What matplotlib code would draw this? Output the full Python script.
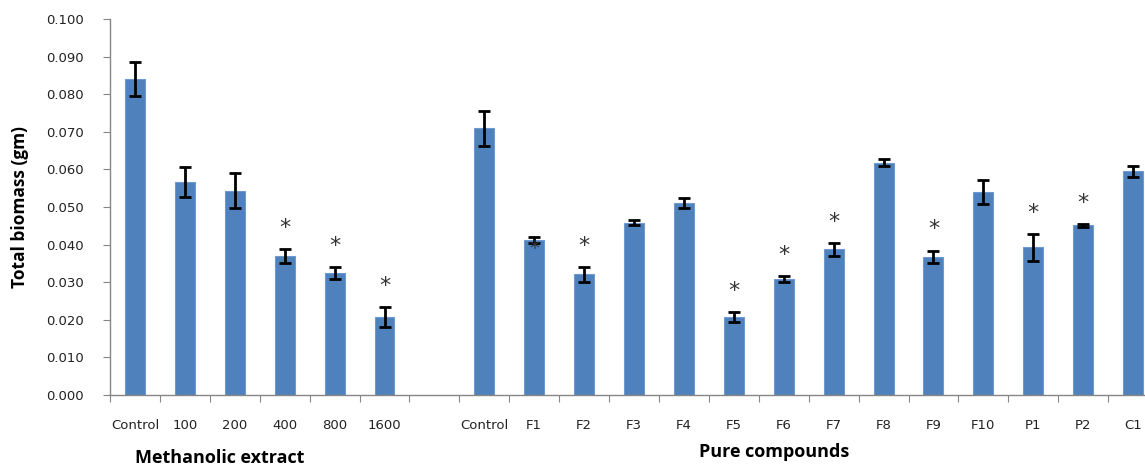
import matplotlib
matplotlib.use("Agg")
import matplotlib.pyplot as plt
import numpy as np

extract_labels = ["Control", "100", "200", "400", "800", "1600"]
extract_means = [0.0840, 0.0566, 0.0543, 0.0370, 0.0325, 0.0207]
extract_errs = [0.0045, 0.0040, 0.0047, 0.0018, 0.0016, 0.0027]
extract_sig = [False, False, False, True, True, True]

pure_labels = ["Control", "F1", "F2", "F3", "F4", "F5", "F6", "F7", "F8", "F9",
               "F10", "P1", "P2", "C1"]
pure_means = [0.0709, 0.0413, 0.0321, 0.0458, 0.0511, 0.0207, 0.0309, 0.0387,
              0.0618, 0.0367, 0.0539, 0.0393, 0.0451, 0.0595]
pure_errs = [0.0047, 0.0008, 0.0020, 0.0007, 0.0013, 0.0014, 0.0008, 0.0017,
             0.0009, 0.0017, 0.0032, 0.0036, 0.0003, 0.0015]
pure_sig = [False, False, True, False, False, True, True, True, False, True,
            False, True, True, False]

yticks = [0.000, 0.010, 0.020, 0.030, 0.040, 0.050, 0.060, 0.070, 0.080, 0.090, 0.100]

labels = extract_labels + [""] + pure_labels
means = extract_means + [np.nan] + pure_means
errs = extract_errs + [np.nan] + pure_errs
sig = extract_sig + [False] + pure_sig
x = np.arange(len(labels))

fig = plt.figure(figsize=(11.45, 4.66), dpi=100)
ax = fig.add_axes([0.0961, 0.1524, 0.9153, 0.8069])

bar_color = "#4F81BD"
ax.bar(x, means, width=0.40, color=bar_color, edgecolor="#6F9AD0", linewidth=0.8, zorder=2)
ax.errorbar(x, means, yerr=errs, fmt="none", ecolor="black", elinewidth=2,
            capsize=4, capthick=2, zorder=3)

# significance asterisks
for xi, m, e, s in zip(x, means, errs, sig):
    if s:
        ax.annotate("*", xy=(xi, m + e), xytext=(0, 8), textcoords="offset points",
                    ha="center", va="bottom", fontsize=16, color="#333333",
                    family="DejaVu Sans")
# F1 asterisk overlapping its error bar
f1 = len(extract_labels) + 1 + pure_labels.index("F1")
ax.annotate("*", xy=(f1, means[f1]), xytext=(0, -6), textcoords="offset points",
            ha="center", va="center", fontsize=14, color="#333333", family="DejaVu Sans")

ax.set_xlim(-0.5, len(labels) - 0.5)
ax.set_ylim(0, 0.100)
ax.set_yticks(yticks)
ax.set_yticklabels([f"{v:.3f}" for v in yticks], fontsize=9.5, family="DejaVu Sans",
                   color="#222222")

ax.set_xticks(np.arange(-0.5, len(labels), 1.0))
ax.set_xticklabels([])
ax.set_xticks(x, minor=True)
ax.set_xticklabels(labels, minor=True, fontsize=9.5, family="DejaVu Sans", color="#222222")
ax.tick_params(axis="x", which="minor", length=0, pad=17)
ax.tick_params(axis="x", which="major", length=5, color="#868686", direction="out")
ax.tick_params(axis="y", length=5, color="#868686", direction="out", pad=14)

for s in ["top", "right"]:
    ax.spines[s].set_visible(False)
for s in ["left", "bottom"]:
    ax.spines[s].set_color("#868686")
    ax.spines[s].set_linewidth(1.0)

ax.set_ylabel("Total biomass (gm)", fontsize=12.5, fontweight="bold", family="Open Sans",
              labelpad=12)

fig.text(220 / 1145, 1 - 458 / 466, "Methanolic extract", ha="center", va="center",
         fontsize=13, fontweight="bold", family="Open Sans")
fig.text(774 / 1145, 1 - 452 / 466, "Pure compounds", ha="center", va="center",
         fontsize=13, fontweight="bold", family="Open Sans")

fig.savefig("out.png", dpi=100)
